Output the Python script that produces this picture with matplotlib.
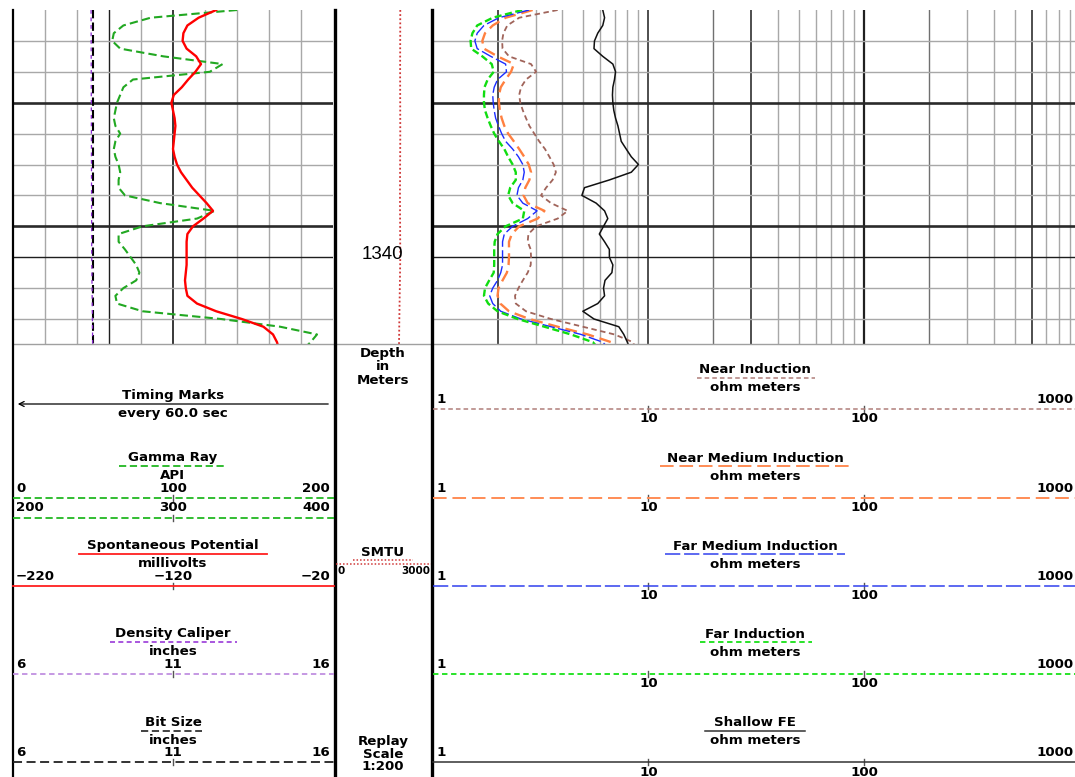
import matplotlib
matplotlib.use("Agg")
import matplotlib.pyplot as plt

plt.rcParams['font.family'] = ['DejaVu Sans']

# ---- log data (depth in meters) ----
depth = [1332.0, 1332.25, 1332.5, 1332.75, 1333.0, 1333.25, 1333.5, 1333.75,
         1334.0, 1334.25, 1334.5, 1334.75, 1335.0, 1335.25, 1335.5, 1335.75,
         1336.0, 1336.25, 1336.5, 1336.75, 1337.0, 1337.25, 1337.5, 1337.75,
         1338.0, 1338.25, 1338.5, 1338.75, 1339.0, 1339.25, 1339.5, 1339.75,
         1340.0, 1340.25, 1340.5, 1340.75, 1341.0, 1341.25, 1341.5, 1341.75,
         1342.0, 1342.25, 1342.5, 1342.75, 1342.85]

gamma_ray = [140, 86, 69, 63, 62, 67, 94, 131, 123, 75, 69, 67, 65, 64, 63, 64,
             67, 64, 63, 64, 66, 67, 66, 66, 70, 92, 126, 115, 81, 66, 66, 70,
             73.5, 77, 79, 77, 69, 64, 65, 81, 130, 167, 190, 186, 184]

sp = [-93, -104, -111, -113.5, -114, -111.5, -105.5, -102.5, -106, -110.5,
      -114.5, -119.5, -121, -120, -119, -118.5, -119, -119.5, -120, -119,
      -117.5, -115, -111.5, -108, -103.5, -99, -95, -101, -107.5, -111,
      -111.5, -111.5, -111.5, -111.5, -112, -112.5, -112, -111, -105, -93,
      -77, -63.5, -57.5, -55, -54.5]

near_ind = [3.8, 2.52, 2.22, 2.13, 2.10, 2.11, 2.26, 2.86, 3.02, 2.71, 2.57,
            2.52, 2.55, 2.62, 2.71, 2.81, 2.96, 3.12, 3.32, 3.48, 3.64, 3.73,
            3.60, 3.36, 3.18, 3.54, 4.23, 3.80, 3.02, 2.78, 2.76, 2.85, 2.86,
            2.85, 2.76, 2.62, 2.50, 2.41, 2.43, 2.71, 3.54, 4.97, 6.97, 8.49, 8.6]

near_med_ind = [2.91, 2.18, 1.90, 1.75, 1.70, 1.73, 2.00, 2.38, 2.31, 2.18,
                2.07, 2.03, 2.03, 2.05, 2.09, 2.15, 2.24, 2.38, 2.52, 2.66,
                2.79, 2.86, 2.81, 2.69, 2.64, 2.76, 3.30, 3.07, 2.52, 2.33,
                2.26, 2.26, 2.26, 2.25, 2.21, 2.11, 2.02, 2.00, 2.06, 2.26,
                2.81, 3.80, 5.24, 6.73, 6.9]

far_med_ind = [2.80, 2.03, 1.73, 1.61, 1.57, 1.61, 1.86, 2.18, 2.20, 2.00,
               1.93, 1.90, 1.91, 1.93, 1.96, 2.02, 2.09, 2.18, 2.35, 2.50,
               2.62, 2.66, 2.62, 2.50, 2.46, 2.62, 3.05, 2.76, 2.35, 2.15,
               2.11, 2.11, 2.11, 2.11, 2.07, 2.00, 1.90, 1.84, 1.90, 2.07,
               2.57, 3.54, 4.88, 6.15, 6.35]

far_ind = [2.6, 1.9, 1.61, 1.53, 1.50, 1.51, 1.70, 1.88, 1.92, 1.80, 1.74,
           1.73, 1.73, 1.75, 1.80, 1.86, 1.93, 2.03, 2.15, 2.24, 2.35, 2.43,
           2.43, 2.29, 2.24, 2.35, 2.66, 2.62, 2.18, 2.00, 1.94, 1.93, 1.93,
           1.93, 1.92, 1.83, 1.75, 1.73, 1.81, 2.00, 2.48, 3.30, 4.38, 5.53, 5.7]

shallow_fe = [6.15, 6.27, 6.15, 5.83, 5.63, 5.6, 6.15, 6.85, 7.05, 6.97, 6.85,
              6.82, 6.85, 6.92, 7.05, 7.23, 7.36, 7.49, 7.90, 8.34, 9.0, 8.34,
              6.6, 5.06, 4.92, 5.73, 6.27, 6.49, 6.2, 5.93, 6.27, 6.6, 6.6,
              6.85, 6.78, 6.3, 6.2, 6.27, 5.83, 4.97, 5.6, 7.3, 7.7, 8.0, 8.1]

cal_depth = [1332.0, 1336.0, 1340.0, 1342.85]
caliper = [8.44, 8.45, 8.46, 8.49]
bit_depth = [1332.0, 1342.85]
bit_size = [8.5, 8.5]

smtu_depth = [1332.0, 1334.0, 1336.0, 1338.0, 1340.0, 1342.0, 1342.85]
smtu = [2030, 2025, 2030, 2020, 2030, 2000, 1990]

depth_label = 1340

# ---- layout (pixels) ----
W, H = 1075, 777
TOP, BOT = 10, 344
PX_PER_M = 30.9
d_top = 1332.0
d_bot = d_top + (BOT - TOP) / PX_PER_M

fig = plt.figure(figsize=(W / 100, H / 100), dpi=100)


def rect(x0, x1, y0, y1):
    return [x0 / W, 1 - y1 / H, (x1 - x0) / W, (y1 - y0) / H]


GRAY = '#a8a8a8'
DARK = '#1e1e1e'


def hgrid(ax):
    for d in range(1333, 1343):
        if d in (1335, 1339):
            ax.axhline(d, color='#2a2a2a', lw=1.9, zorder=1)
        elif d == 1340:
            ax.axhline(d, color=DARK, lw=1.0, zorder=1)
        else:
            ax.axhline(d, color=GRAY, lw=1.0, zorder=1)


# left track: gamma ray / SP / caliper
ax_gr = fig.add_axes(rect(13, 333, TOP, BOT))
ax_gr.set_xlim(0, 200)
ax_gr.set_ylim(d_bot, d_top)
ax_gr.axis('off')
for v in range(20, 200, 20):
    if v == 100:
        ax_gr.axvline(v, color='#2a2a2a', lw=1.3, zorder=1)
    elif v == 60:
        ax_gr.axvline(v, color=DARK, lw=1.0, zorder=1)
    else:
        ax_gr.axvline(v, color=GRAY, lw=1.0, zorder=1)
hgrid(ax_gr)
ax_gr.plot(gamma_ray, depth, color='#22a822', lw=1.5, dashes=(4, 2), zorder=4)

ax_sp = ax_gr.twiny()
ax_sp.set_xlim(-220, -20)
ax_sp.set_ylim(d_bot, d_top)
ax_sp.axis('off')
ax_sp.plot(sp, depth, color='#ff0000', lw=1.7, zorder=5)

ax_cal = ax_gr.twiny()
ax_cal.set_xlim(6, 16)
ax_cal.set_ylim(d_bot, d_top)
ax_cal.axis('off')
ax_cal.plot(bit_size, bit_depth, color='black', lw=1.5, dashes=(4, 2), zorder=3)
ax_cal.plot(caliper, cal_depth, color='#8a2bd0', lw=0.9, dashes=(3, 3), zorder=4)

# depth track
ax_dep = fig.add_axes(rect(336, 431, TOP, BOT))
ax_dep.set_xlim(0, 3000)
ax_dep.set_ylim(d_bot, d_top)
ax_dep.axis('off')
ax_dep.plot(smtu, smtu_depth, color='#d03838', lw=1.3, dashes=(1, 1.3))
ax_dep.text(0.49, depth_label - 0.08, str(depth_label), transform=ax_dep.get_yaxis_transform(),
            ha='center', va='center', fontsize=13.5,
            family=['Liberation Sans', 'DejaVu Sans'])

# right track: resistivity, log 1..1000
x1, x10 = 432.6, 648.3
dec = x10 - x1
ax_r = fig.add_axes(rect(x1, x1 + 3 * dec, TOP, BOT))
ax_r.set_xscale('log')
ax_r.set_xlim(1, 1000)
ax_r.set_ylim(d_bot, d_top)
ax_r.axis('off')
for p in (1, 10, 100):
    for m in range(1, 10):
        v = m * p
        if v == 1:
            continue
        if v == 100:
            ax_r.axvline(v, color='#202020', lw=1.6, zorder=1)
        elif v in (2, 10, 30, 600):
            ax_r.axvline(v, color=DARK, lw=1.1, zorder=1)
        elif v in (20, 200):
            ax_r.axvline(v, color='#707070', lw=1.0, zorder=1)
        else:
            ax_r.axvline(v, color=GRAY, lw=1.0, zorder=1)
hgrid(ax_r)
ax_r.plot(near_ind, depth, color='#a0645a', lw=1.3, dashes=(3, 2), zorder=3)
ax_r.plot(near_med_ind, depth, color='#ff8040', lw=1.7, dashes=(5, 2.5), zorder=4)
ax_r.plot(far_med_ind, depth, color='#1a2cff', lw=1.0, dashes=(9, 2.5), zorder=5)
ax_r.plot(far_ind, depth, color='#10dd10', lw=1.7, dashes=(3, 1.5), zorder=6)
ax_r.plot(shallow_fe, depth, color='#111111', lw=1.1, zorder=7)

# ---- overlay for header panel and borders ----
ov = fig.add_axes([0, 0, 1, 1], zorder=10)
ov.set_xlim(0, W)
ov.set_ylim(H, 0)
ov.axis('off')

ov.plot([13, W], [BOT, BOT], color='#a0a0a0', lw=1.0)
ov.plot([13, 13], [TOP, H], color='black', lw=1.6)
ov.plot([334.8, 334.8], [TOP, H], color='black', lw=2.4)
ov.plot([431.6, 431.6], [TOP, H], color='black', lw=2.4)

FS = 9.6
kw = dict(fontsize=FS, fontweight='bold', va='center', zorder=5)
LC = 173  # left panel centre
RC = 755  # right panel centre

# timing marks
ov.text(LC, 395, 'Timing Marks', ha='center', **kw)
ov.annotate('', xy=(15, 404), xytext=(331, 404),
            arrowprops=dict(arrowstyle='->', lw=0.9, color='black', mutation_scale=9))
ov.text(LC, 413, 'every 60.0 sec', ha='center', **kw)


def tick(x, y, col='#555555'):
    ov.plot([x, x], [y - 3, y + 3], color=col, lw=1.0, zorder=1)


def scale_row(y, labels, x0, x1):
    ov.text(x0 + 3, y, labels[0], ha='left', **kw)
    ov.text(x1 - 3, y, labels[-1], ha='right', **kw)


# gamma ray
ov.text(LC, 458, 'Gamma Ray', ha='center', **kw)
ov.plot([119, 224], [466, 466], color='#22b822', lw=1.3, dashes=(4, 2))
ov.text(LC, 475.5, 'API', ha='center', **kw)
scale_row(488, ['0', '200'], 13, 333)
ov.text(LC, 488, '100', ha='center', **kw)
ov.plot([13, 334], [497.5, 497.5], color='#22b822', lw=1.3, dashes=(4, 2))
tick(LC, 497.5)
scale_row(507.5, ['200', '400'], 13, 333)
ov.text(LC, 507.5, '300', ha='center', **kw)
ov.plot([13, 334], [517.5, 517.5], color='#22b822', lw=1.3, dashes=(4, 2))
tick(LC, 517.5)

# spontaneous potential
ov.text(LC, 546, 'Spontaneous Potential', ha='center', **kw)
ov.plot([79, 267], [554, 554], color='#ff2020', lw=1.3)
ov.text(LC, 563.5, 'millivolts', ha='center', **kw)
scale_row(576.5, ['\u2212220', '\u221220'], 13, 333)
ov.text(LC, 576.5, '\u2212120', ha='center', **kw)
ov.plot([13, 334], [585.5, 585.5], color='#ff2020', lw=1.3)
tick(LC, 585.5)

# density caliper
ov.text(LC, 634, 'Density Caliper', ha='center', **kw)
ov.plot([110, 237], [642, 642], color='#9a3ad8', lw=1.2, dashes=(3, 2))
ov.text(LC, 651.5, 'inches', ha='center', **kw)
scale_row(665, ['6', '16'], 13, 333)
ov.text(LC, 665, '11', ha='center', **kw)
ov.plot([13, 334], [674, 674], color='#c090e0', lw=1.3, dashes=(3, 2))
tick(LC, 674)

# bit size
ov.text(LC, 722.5, 'Bit Size', ha='center', **kw)
ov.plot([141, 202], [730.5, 730.5], color='#333333', lw=1.3, dashes=(4, 2))
ov.text(LC, 740, 'inches', ha='center', **kw)
scale_row(753, ['6', '16'], 13, 333)
ov.text(LC, 753, '11', ha='center', **kw)
ov.plot([13, 334], [762, 762], color='#222222', lw=1.3, dashes=(5, 2.5))
tick(LC, 762)

# depth track header
DC = 383
for txt, y in (('Depth', 354), ('in', 367), ('Meters', 380),
               ('Replay', 741), ('Scale', 754), ('1:200', 767)):
    ov.text(DC, y, txt, ha='center', **kw)
ov.text(DC, 552, 'SMTU', ha='center', **kw)
ov.plot([353, 413], [560, 560], color='#d03838', lw=1.1, dashes=(1, 1.3))
ov.plot([336, 431], [564, 564], color='#d03838', lw=1.1, dashes=(1, 1.3))
ov.text(338, 571, '0', ha='left', fontsize=7.5, fontweight='bold', va='center')
ov.text(430, 571, '3000', ha='right', fontsize=7.5, fontweight='bold', va='center')

# right panel: resistivity curves
right_rows = [
    ('Near Induction', 369.5, (697, 815), dict(color='#b07f7a', lw=1.1, dashes=(3, 2))),
    ('Near Medium Induction', 458, (660, 850), dict(color='#ff8c55', lw=1.4, dashes=(7, 3))),
    ('Far Medium Induction', 546, (665, 845), dict(color='#3040ee', lw=1.1, dashes=(10, 2.5))),
    ('Far Induction', 634, (700, 812), dict(color='#18e018', lw=1.3, dashes=(3, 2))),
    ('Shallow FE', 722.5, (705, 805), dict(color='#333333', lw=1.1)),
]
x100 = x10 + dec
for title, T, (ux0, ux1), style in right_rows:
    ov.text(RC, T, title, ha='center', **kw)
    ov.plot([ux0, ux1], [T + 8, T + 8], **style)
    ov.text(RC, T + 18, 'ohm meters', ha='center', **kw)
    ov.text(436, T + 30, '1', ha='left', **kw)
    ov.text(1074, T + 30, '1000', ha='right', **kw)
    ov.plot([433, W], [T + 39.5, T + 39.5], **style)
    tick(x10, T + 39.5)
    tick(x100, T + 39.5)
    ov.text(x10, T + 49.5, '10', ha='center', **kw)
    ov.text(x100, T + 49.5, '100', ha='center', **kw)

fig.savefig('out.png', dpi=100)
